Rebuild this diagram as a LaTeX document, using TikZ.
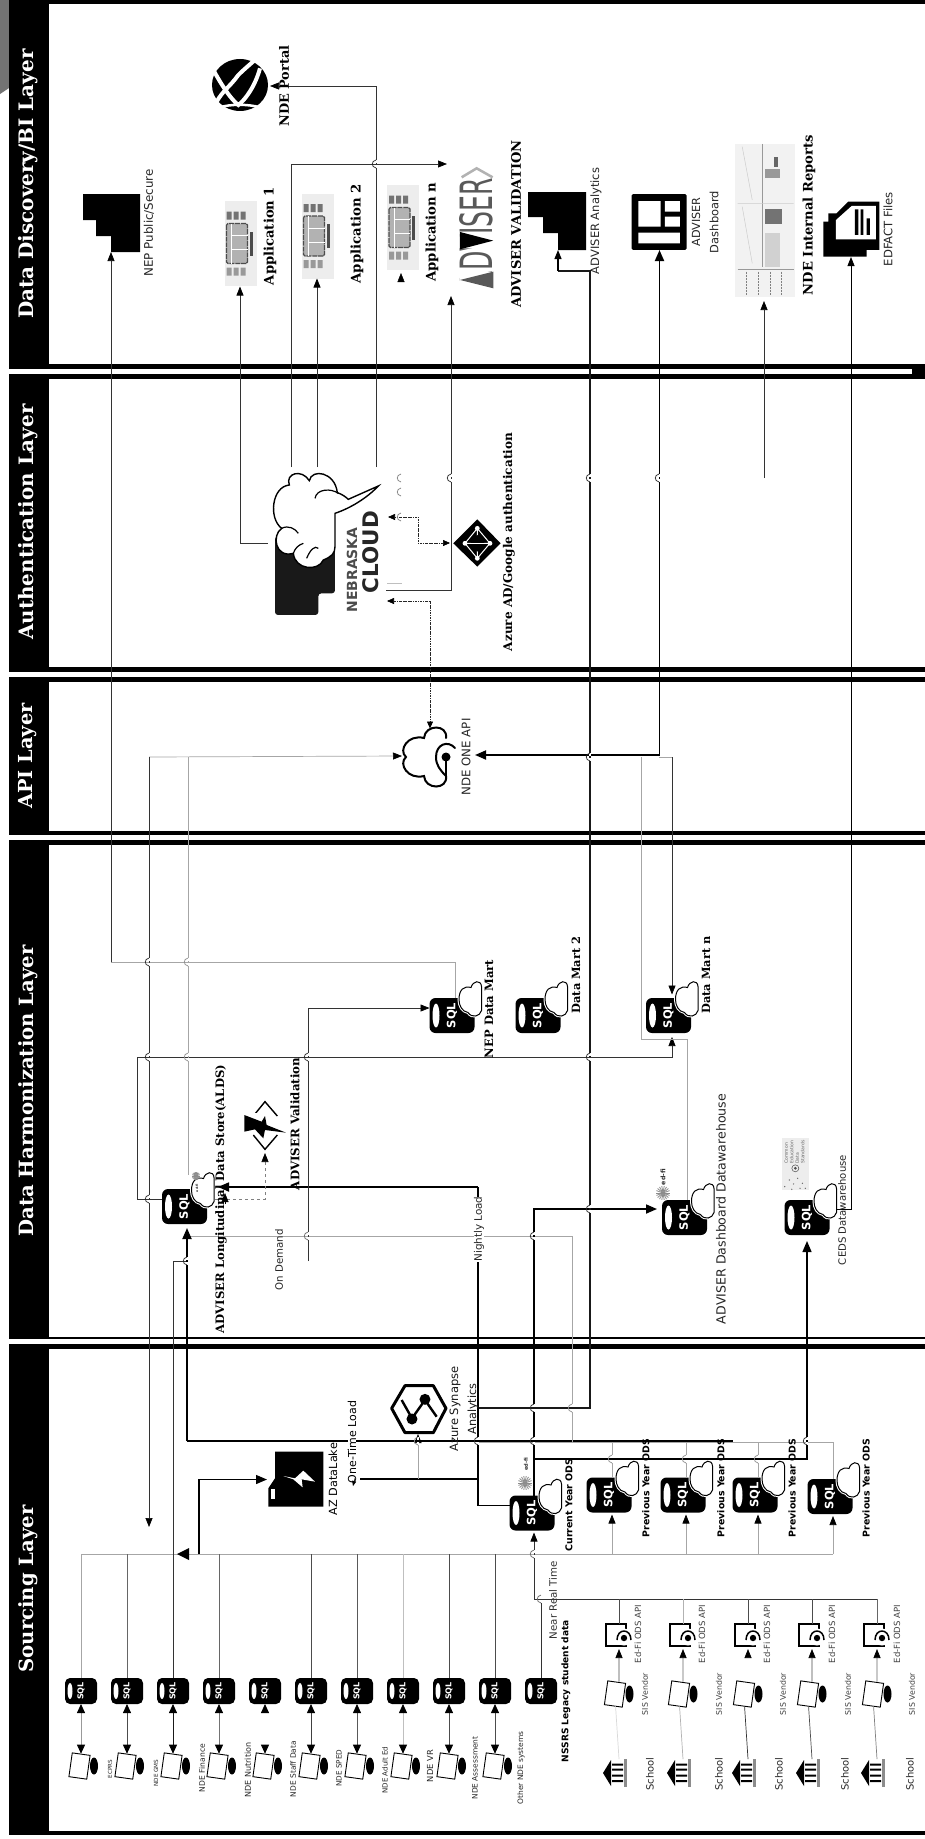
\documentclass[tikz,border=0pt]{standalone}
\usepackage{fontspec}
\usepackage{graphicx}
\setmainfont{DejaVu Sans}
\newfontfamily\fser{DejaVu Serif}
\usetikzlibrary{arrows.meta,calc}
\tikzset{
  wd/.style={line width=.7pt,black!80},
  wg/.style={line width=.7pt,black!35},
  wm/.style={line width=1.1pt,black!90},
  wt/.style={line width=1.8pt,black},
  arr/.style={-{Triangle[length=9pt,width=7pt,color=black]}},
  arrb/.style={-{Triangle[length=11pt,width=9pt,color=black]}},
  barr/.style={{Triangle[length=11pt,width=9pt,color=black]}-{Triangle[length=11pt,width=9pt,color=black]}},
  darr/.style={{Triangle[length=9pt,width=8pt,color=black]}-{Triangle[length=9pt,width=8pt,color=black]}},
  dashy/.style={line width=.6pt,black!85,dash pattern=on 2.5pt off 1pt on .7pt off 1pt},
  darrs/.style={{Triangle[length=7pt,width=6pt,color=black]}-{Triangle[length=7pt,width=6pt,color=black]}},
  sdb/.style={fill=black,text=white,rounded corners=5pt,inner sep=0,outer sep=0,minimum width=32pt,minimum height=26pt,font=\bfseries\fontsize{8}{8}\selectfont},
  bdb/.style={fill=black,text=white,rounded corners=6pt,inner sep=0,outer sep=0,minimum width=45pt,minimum height=35pt,font=\bfseries\fontsize{11.5}{11.5}\selectfont},
}
\newcommand{\rlab}[6][]{\node[rotate=90,inner sep=0,anchor=center,#1] (#2) at (#3,#4) {\resizebox{#5pt}{!}{#6}};}
\newcommand{\hold}[5]{\node[inner sep=0,outer sep=0,minimum width=#4pt,minimum height=#5pt] (#1) at (#2,#3) {};}
\newcommand{\jv}[3][black!85]{%
  \fill[white] (#2-1.2,#3-4) rectangle (#2+1.2,#3-1.2);
  \fill[white] (#2-1.2,#3+1.2) rectangle (#2+1.2,#3+4);
  \draw[#1,line width=.7pt] (#2,#3-4) .. controls (#2-5,#3-3) and (#2-5,#3+3) .. (#2,#3+4);}
\newcommand{\smalldb}[3]{%
  \node[sdb] (#1) at (#2,#3) {\rotatebox{90}{SQL}};
  \fill[white] ([xshift=5pt]#1.west) ellipse [x radius=2.5pt,y radius=8pt];}
\newcommand{\smallcloud}[2]{%
  \begin{scope}[shift={(#1,#2)}]
  \draw[white,line width=3pt,fill=white] (-11,0) .. controls (-11,-10) and (-6,-14) .. (1,-12) .. controls (3,-19) and (11,-20) .. (11.5,-13) -- (11.5,11) .. controls (10,17) and (2,19) .. (-2,13) .. controls (-8,12) and (-11,6) .. (-11,0) -- cycle;
  \draw[black,line width=1pt,fill=white] (-11,0) .. controls (-11,-10) and (-6,-14) .. (1,-12) .. controls (3,-19) and (11,-20) .. (11.5,-13) -- (11.5,11) .. controls (10,17) and (2,19) .. (-2,13) .. controls (-8,12) and (-11,6) .. (-11,0) -- cycle;
  \end{scope}}
\newcommand{\bigdb}[3]{%
  \node[bdb] (#1) at (#2,#3) {\rotatebox{90}{SQL}};
  \fill[white] ([xshift=6.5pt]#1.west) ellipse [x radius=3.5pt,y radius=12pt];
  \smallcloud{#2+18}{#3-16}}
\newcommand{\tablet}[3]{%
  \fill[black] (#2+14.5,#3) ellipse [x radius=4pt,y radius=8.5pt];
  \node[rotate=-8,draw=black,line width=.9pt,fill=white,inner sep=0,minimum width=18pt,minimum height=24pt] (#1) at (#2,#3) {};}
\newcommand{\edfi}[3]{%
  \node[draw=black,line width=2.6pt,fill=white,inner sep=0,outer sep=0,minimum width=20pt,minimum height=22pt] (#1) at (#2,#3) {};
  \begin{scope}[shift={(#2,#3)}]
  \fill[white] (8,2) circle [radius=8.5pt];
  \draw[line width=1.5pt,black] (1,5) .. controls (1,-7) and (15,-7) .. (15,5);
  \fill[black] (8,3) circle [radius=3.2pt];
  \end{scope}}
\newcommand{\school}[3]{%
  \node[inner sep=0,outer sep=0,minimum width=24pt,minimum height=28pt] (#1) at (#2,#3) {};
  \begin{scope}[shift={(#2,#3)}]
  \fill[black] (-12,0) -- (-4,-13) -- (-4,13) -- cycle;
  \fill[black] (-3,-9.5) rectangle (8,-7.3) (-3,-4.5) rectangle (8,-2.3) (-3,1.5) rectangle (8,3.7) (-3,7) rectangle (8,9.2);
  \fill[black!45] (8.5,-14) rectangle (12,14);
  \end{scope}}
\newcommand{\appicon}[3]{%
  \node[fill=black!7,inner sep=0,outer sep=0,minimum width=32pt,minimum height=85pt] (#1) at (#2,#3) {};
  \begin{scope}[shift={(#2,#3)}]
  \fill[black!55] (-14,-32) rectangle (-9,-24) (-7,-32) rectangle (-2,-24) (0,-32) rectangle (5,-24);
  \fill[black!40] (-14,24) rectangle (-9,32) (-7,24) rectangle (-2,32) (0,24) rectangle (5,32);
  \draw[black!70,line width=1.2pt,dash pattern=on 5pt off .8pt,fill=black!30,rounded corners=1.5pt] (-14,-20) rectangle (7,20);
  \draw[white,line width=.6pt] (-9,-20) -- (-9,20) (-9,-8) -- (7,-8) (-9,6) -- (7,6);
  \fill[black!70] (9,-12) rectangle (12,12);
  \end{scope}}
\newcommand{\burst}[3]{%
  \foreach \t in {0,20,...,340}{\draw[black!45,line width=.8pt] (#1,#2) -- ++(\t:#3pt);}}
\begin{document}
\begin{tikzpicture}[x=1pt,y=-1pt]
\useasboundingbox (0,0) rectangle (925,1839);
\fill[white] (0,0) rectangle (925,1839);
% corner
\fill[black!55] (0,0) -- (9,0) -- (9,88) -- (0,94) -- cycle;
% panels
\fill[black] (9,0) rectangle (925,369);
\fill[white] (49,4) rectangle (925,364);
\fill[black] (912,369) rectangle (925,374);
\fill[black] (9,374) rectangle (925,672);
\fill[white] (49,379) rectangle (925,667);
\fill[black] (9,677) rectangle (925,835);
\fill[white] (49,682) rectangle (925,831);
\fill[black] (9,840) rectangle (925,1339);
\fill[white] (49,845) rectangle (925,1337);
\fill[black] (9,1344) rectangle (925,1835);
\fill[white] (49,1349) rectangle (925,1831);
% nodes that connectors need
\foreach \i/\x in {1/81,2/127,3/173,4/219,5/265,6/311,7/357,8/403,9/449,10/495,11/541}{\smalldb{s\i}{\x}{1691}}
\foreach \i/\x in {1/81,2/127,3/173,4/219,5/265,6/311,7/357,8/403,9/449,10/495}{\tablet{t\i}{\x-1.5}{1766}}
\foreach \i/\x in {1/619,2/683,3/748,4/812,5/877}{
  \tablet{v\i}{\x-4}{1694}
  \edfi{ed\i}{\x-3}{1635}
  \school{sc\i}{\x-4}{1773}
}
\hold{iconnep}{111}{223}{58}{58}
\hold{globe}{240}{86}{56}{54}
\appicon{appone}{240.5}{243.5}
\appicon{apptwo}{317.5}{236}
\appicon{appn}{403}{227.5}
\hold{logo}{476.5}{227.5}{33}{121}
\hold{iconana}{557}{221}{58}{58}
\hold{icondash}{659.5}{222}{55}{56}
\hold{reports}{765}{220.5}{60}{153}
\hold{iconedf}{851}{229.5}{56}{55}
\hold{neb}{327.5}{541}{105}{148}
\hold{ad}{477}{543}{48}{48}
\hold{apicloud}{430}{756}{54}{55}
\hold{lake}{295.5}{1479.5}{55}{55}
\hold{syn}{418}{1408}{54}{48}
\hold{valicon}{265}{1125}{41}{50}
% connectors: sourcing
\foreach \i/\c in {1/black!40,2/black!70,3/black!90,4/black!55,6/black!75,7/black!65,8/black!25,9/black!70,10/black!70}{
  \draw[darr,\c,line width=.8pt] (s\i.south) -- (s\i.south |- t\i.north);}
\draw[darr,white,line width=.8pt] (s5.south) -- (s5.south |- t5.north);
\coordinate (busL) at (81,1554);
\coordinate (busR) at (833,1554);
\draw[wg] (s1.north) -- (busL) -- (busR);
\foreach \i/\c in {2/black!60,4/black!60,6/black!70,7/black!65,8/black!25,9/black!70,10/black!70}{
  \draw[\c,line width=.7pt] (s\i.north) -- (s\i.north |- busL);}
\coordinate (gmsend) at (186,1261);
\draw[wd] (s3.north) |- (gmsend);
\coordinate (nrt) at (534,1599);
\coordinate (nrtr) at (877,1599);
\draw[wd] (s11.north) -- (s11.north |- nrt);
\draw[wd] (nrt) -- (nrtr);
\foreach \i/\x/\c/\d/\e in {1/619/black!70/black!15/black!70,2/683/black!30/black!30/black!60,3/748/black!70/black!80/white,4/812/black!70/black!70/black!70,5/877/black!60/black!50/black!60}{
  \draw[\c,line width=.7pt] ([xshift=3pt]ed\i.north) -- (\x,1599);
  \draw[\d,line width=.7pt] ([xshift=4pt]sc\i.north) -- ([xshift=2.3pt]v\i.south);
  \draw[arr,\e,line width=.7pt] ([xshift=2.3pt]v\i.north) -- ([xshift=3pt,yshift=-3pt]ed\i.south);
}
% gray feeds drawn before the cylinders
\coordinate (graystart) at (478,1442);
\draw[wg] (graystart) -- (833,1442);
\coordinate (thickstart) at (187,1441);
\coordinate (thickend) at (733,1441);
\draw[wt] (thickstart) -- (thickend);
\coordinate (graytop) at (572,1442);
\draw[wg] (graytop) |- (188,1236);
\bigdb{cur}{532}{1513}
\bigdb{pvone}{609}{1495}
\bigdb{pvtwo}{683}{1495}
\bigdb{pvthree}{755}{1495}
\bigdb{pvfour}{830}{1496.5}
\bigdb{alds}{184.5}{1206.5}
\bigdb{dmnep}{452}{1015.5}
\bigdb{dmtwo}{538}{1015.5}
\bigdb{dmn}{668.5}{1015.5}
\bigdb{dw}{684.5}{1217.5}
\bigdb{ceds}{807}{1217.5}
\foreach \n in {pvone,pvtwo,pvthree}{
  \draw[wg,arr] (\n.south |- busR) ++(3,0) -- ([xshift=3pt,yshift=-2pt]\n.south);
  \draw[wg] ([xshift=3pt]\n.north) -- ++(0,-35);}
\draw[wg,arr] (busR) -- ([xshift=3pt,yshift=-2pt]pvfour.south);
\draw[wg] ([xshift=3pt]pvfour.north) -- (833,1442);
\draw[wt,arrb] (thickstart) -- ([xshift=2.5pt,yshift=-4pt]alds.south);
\draw[wt] ([yshift=7.5pt]cur.west) -- (478,1505.5) -- (478,1187);
\draw[wt,arrb] (478,1187) -- ([xshift=11pt,yshift=19.5pt]alds.east);
\draw[wt,arrb] ([xshift=2pt]cur.north) -- (534,1209) -- ([xshift=-5pt,yshift=8.5pt]dw.west);
\coordinate (cedsj) at (534,1459);
\draw[line width=1.3pt,black,arrb] (cedsj) -| ([yshift=-6pt]ceds.south);
\draw[wd,arr] (nrt) -- ([xshift=2pt,yshift=-2pt]cur.south);
\draw[line width=1.3pt,black,arrb] (199,1554) |- ([xshift=-1pt]lake.west);
\fill[black] (177,1554) -- (189,1548) -- (189,1560) -- cycle;
\draw[line width=1.3pt,black] (478,1479) -- (360,1479);
\draw[wg,arr] (418,1479) -- ([yshift=-2pt]syn.south);
\draw[wm] ([xshift=34pt]syn.east) -- (590,1408) -- (590,271) -- (558,271);
\draw[line width=1.1pt,black,arr] (558,271) -- ([xshift=1pt]iconana.south);
% harmonization
\coordinate (jnep) at (111,962);
\draw[wg] ([xshift=3pt]dmnep.north) |- (jnep);
\draw[wd,arr] (jnep) -- (iconnep.south);
\coordinate (odstart) at (308,1261);
\draw[wd,arr] (odstart) |- ([yshift=7.5pt]dmnep.west);
\draw[wd,arr] ([yshift=7.5pt]alds.west) -| (137,1057) -| ([xshift=3.5pt,yshift=-4pt]dmn.south);
\draw[black!50,line width=.6pt,dashed,arr] ([xshift=8pt,yshift=7.5pt]alds.east) -| ([yshift=-3pt]valicon.south);
\coordinate (aldssmall) at (225,1204);
\draw[black,arr] (aldssmall) -- (225,1193);
% api
\coordinate (japiw) at (149,757);
\coordinate (japie) at (672,757);
\coordinate (j641) at (641,757);
\draw[wg,arr] (japiw) -- ([xshift=-1pt]apicloud.west);
\draw[wg] (188,757) -- ([xshift=3.5pt,yshift=14pt]alds.north);
\draw[wd,arr] (japiw) -- (149,1527);
\draw[wg] (659,757) -- (japie);
\draw[wd,arr] (japie) -- ([xshift=3.5pt,yshift=3.5pt]dmn.north);
\draw[wg] (j641) |- (687,1039) -- ([xshift=2.5pt]dw.north);
\draw[wt,barr] ([xshift=18pt,yshift=1pt]apicloud.east) -| (icondash.south);
% auth and discovery
\draw[wd,arr] ([xshift=-7.5pt,yshift=-2pt]neb.west) -| ([xshift=-.5pt,yshift=-.5pt]appone.south);
\draw[wd,arr] ([xshift=-36.5pt]neb.north) -- (291,164) -- ([xshift=-13pt,yshift=3pt]logo.north west);
\draw[wd,arr] ([xshift=-10.5pt]neb.north) -- ([xshift=-.5pt]apptwo.south);
\draw[wd,arr] ([xshift=48.5pt]neb.north) -- (376,86) -- ([xshift=2pt]globe.east);
\draw[wd,arr] ([xshift=6pt,yshift=-49pt]neb.east) -| ([xshift=-25.5pt,yshift=-8pt]logo.south);
\draw[dashy,darrs] ([xshift=7pt,yshift=-60pt]neb.east) -| (apicloud.north);
\draw[dashy,darrs] ([xshift=-3pt]ad.west) -- (418,543) -- (418,517) -- ([xshift=8pt,yshift=24pt]neb.east);
\coordinate (jrep) at (764,478);
\draw[wd,arr] (jrep) -- ([xshift=-1pt,yshift=-4pt]reports.south);
\coordinate (jedf) at (401,284);
\draw[white,arr] (jedf) -- ([xshift=-2pt,yshift=-3pt]appn.south);
\draw[line width=.8pt,black,arr] ([xshift=7pt,yshift=8.5pt]ceds.east) -| (iconedf.south);
\draw[black!25,line width=.6pt] (387,583) -- (402,583);
% jumps
\foreach \y in {1209,1057,757,478}{\jv{590}{\y}}
\jv{659}{478}\jv{451}{478}\jv{376}{164}
\jv[black!50]{401}{478}\jv[black!50]{401}{492}\jv[black!50]{401}{517}
\foreach \y in {1441,1408,1236}{\jv{534}{\y}}
\jv{478}{1441}\jv{807}{1441}\jv[black!45]{572}{1408}
\foreach \y in {962,1057,1199}{\jv{149}{\y}}
\jv[black!45]{188}{962}\jv[black!45]{188}{1057}
\jv{308}{1057}\jv[black!60]{308}{1236}\jv{187}{1261}
\jv[black!45]{418}{1441}\jv[black!60]{534}{1554}\jv[black!60]{541}{1599}
\foreach \x in {612,686,758}{\jv[black!45]{\x}{1459}}
% icons
\fill[black] (83,194) -- (140,194) -- (140,252) -- (111,252) -- (111,236) -- (96,236) -- (96,220) -- (83,220) -- cycle;
\fill[black] (528,192) -- (586,192) -- (586,250) -- (558,250) -- (558,233) -- (543,233) -- (543,217) -- (528,217) -- cycle;
% globe
\begin{scope}[shift={(210,30)},x=.3333pt,y=-.3333pt]
\fill[black] (90,165) ellipse [x radius=28pt,y radius=26pt];
\draw[white,line width=4pt] (135,90) .. controls (100,120) and (90,130) .. (85,135) .. controls (60,170) and (40,180) .. (20,215);
\draw[white,line width=4pt] (10,120) .. controls (35,165) and (60,205) .. (85,225) .. controls (105,210) and (135,170) .. (150,115);
\draw[white,line width=2.5pt] (30,232) .. controls (60,222) and (115,222) .. (150,232);
\end{scope}
% adviser logo
\rlab[text=black!65]{logotext}{476.5}{233}{110}{\resizebox{110pt}{33pt}{\fontsize{30}{30}\selectfont ADVISER}}
\begin{scope}[shift={(210,30)},x=.3333pt,y=-.3333pt]
\fill[white] (748,655) rectangle (852,610) (748,725) rectangle (852,778);
\fill[black!65] (750,750) -- (850,725) -- (850,775) -- cycle;
\fill[black] (750,606) -- (850,632) -- (750,658) -- cycle;
\draw[black!30,line width=2.5pt] (755,442) -- (800,415) -- (848,442);
\end{scope}
% dashboard
\begin{scope}[shift={(520,180)},x=.3333pt,y=-.3333pt]
\fill[black,rounded corners=1.5pt] (335,42) rectangle (500,210);
\fill[white] (355,63) rectangle (422,140) (435,63) rectangle (480,95) (435,110) rectangle (480,140) (355,158) rectangle (480,190);
% edfact
\fill[black] (985,65) -- (1078,65) -- (1078,210) -- (1040,210) -- (1040,230) -- (910,230) -- (910,125) -- (925,125) -- (925,100) -- (950,100) -- cycle;
\fill[white] (995,78) -- (1068,78) -- (1068,178) -- (948,178) -- (948,120) -- cycle;
\fill[black] (1005,88) rectangle (1015,165) (1022,88) rectangle (1030,165) (1040,115) rectangle (1050,165);
\end{scope}
% internal reports
\begin{scope}[x=.59pt,y=-.3333pt]
\fill[black!5] (1245,432) rectangle (1348,892);
\draw[black!40,line width=.5pt] (1292,432) -- (1292,800) (1250,808) -- (1345,808);
\fill[black!40] (1296,507) rectangle (1322,535);
\fill[black!55] (1297,628) rectangle (1325,672);
\fill[black!60] (1312,470) rectangle (1318,500);
\fill[black!18] (1297,700) rectangle (1322,800);
\draw[black!20,line width=.5pt] (1258,440) -- (1275,600) (1258,620) -- (1275,790) (1250,610) -- (1345,610);
\foreach \q in {1265,1285,1305,1325}{\draw[black!50,line width=.6pt,dash pattern=on 2pt off 1pt] (\q,815) -- (\q,885);}
\end{scope}
% nebraska cloud
\begin{scope}[shift={(260,460)},x=.3333pt,y=-.3333pt]
\fill[black!90,rounded corners=3pt] (45,230) -- (45,465) -- (175,465) -- (175,400) -- (225,400) -- (225,160) -- cycle;
\draw[black,fill=white,line width=1.4pt] (355,78) -- (265,118) .. controls (245,100) and (235,100) .. (232,98) .. controls (225,35) and (155,25) .. (148,62) .. controls (125,25) and (75,40) .. (88,75) .. controls (35,80) and (25,175) .. (65,205) .. controls (35,225) and (45,295) .. (100,280) .. controls (105,330) and (175,335) .. (190,300) .. controls (215,290) and (225,280) .. (225,260) -- (225,160) .. controls (270,145) and (320,115) .. (355,78) -- cycle;
\draw[black,line width=1.2pt] (165,115) .. controls (170,85) and (215,85) .. (235,100) (65,205) .. controls (85,195) and (105,205) .. (115,220) (140,295) .. controls (150,270) and (165,255) .. (175,265) (100,280) .. controls (105,265) and (115,255) .. (130,250);
% ad diamond
\fill[black] (652,178) -- (722,250) -- (652,320) -- (580,250) -- cycle;
\draw[white,line width=1pt] (652,205) -- (615,250) -- (652,295) -- (690,250) -- cycle (652,205) -- (652,295) (615,250) -- (690,250);
\fill[white] (652,205) circle [radius=2.4pt] (615,250) circle [radius=2.4pt] (690,250) circle [radius=2.4pt] (652,295) circle [radius=2.4pt];
\fill[black] (652,225) -- (675,250) -- (652,275) -- (630,250) -- cycle;
\draw[white,line width=.9pt] (630,250) -- (675,250);
\end{scope}
% api cloud
\draw[black,line width=2pt,line cap=round] (446,738) .. controls (448,724) and (425,724) .. (424,738) .. controls (408,734) and (398,750) .. (406,757) .. controls (398,764) and (408,780) .. (424,776) .. controls (425,790) and (448,790) .. (446,776);
\draw[black,line width=2pt,line cap=round] (455,748) .. controls (448,740) and (436,744) .. (436,757) .. controls (436,765) and (440,770) .. (446,776);
\fill[black] (446,757) circle [radius=4.5pt];
\draw[black,line width=1.5pt] (446,757) -- (446,776);
% synapse, lake
\begin{scope}[shift={(260,1370)},x=.3333pt,y=-.3333pt]
\draw[black,line width=3pt,line join=round,fill=white] (395,115) -- (435,47) -- (520,47) -- (558,115) -- (520,188) -- (435,188) -- cycle;
\draw[black,line width=2.4pt] (425,90) -- (456,145) -- (495,90) -- (530,140);
\fill[black] (456,147) circle [radius=5.5pt] (495,88) circle [radius=5.5pt];
\fill[black] (45,245) -- (190,245) -- (190,410) -- (25,410) -- (25,355) -- (45,325) -- cycle;
\fill[white] (70,318) -- (105,325) -- (130,302) -- (165,335) -- (125,328) -- (128,352) -- (100,328) -- cycle;
\fill[white] (33,358) rectangle (45,388);
\end{scope}
% validation icon
\begin{scope}[shift={(150,1090)},x=.3333pt,y=-.3333pt]
\draw[black,line width=1.4pt] (310,78) -- (345,35) -- (382,78) (310,135) -- (345,178) -- (382,135);
\fill[white] (283,70) rectangle (352,130);
\fill[black] (283,75) -- (335,95) -- (345,78) -- (350,105) -- (408,128) -- (345,120) -- (340,145) -- (315,118) -- (283,125) -- cycle;
\end{scope}
% ceds logo
\begin{scope}[shift={(0,840)},x=.59pt,y=-.3333pt]
\fill[black!7] (1325,893) rectangle (1372,1050);
\draw[black!70,line width=.5pt] (1348,985) circle [radius=3.5pt];
\fill[black!70] (1348,985) circle [radius=1.5pt];
\foreach \q/\r in {1330/1040,1338/1020,1345/1032,1352/1015,1360/1030,1365/1045,1342/1048,1356/1045}{\fill[black!60] (\q,\r) circle [radius=.7pt];}
\end{scope}
% ed-fi bursts
\burst{525}{1483}{7}
\burst{663}{1193}{7}
\burst{196}{1176}{4}
% labels: layers
\rlab[text=white]{tsrc}{28}{1589}{167}{\fser\bfseries Sourcing Layer}
\rlab[text=white]{tharm}{28}{1091}{291}{\fser\bfseries Data Harmonization Layer}
\rlab[text=white]{tapi}{28}{756}{105}{\fser\bfseries API Layer}
\rlab[text=white]{tauth}{28}{522}{235}{\fser\bfseries Authentication Layer}
\rlab[text=white]{tdisc}{28}{184}{269}{\fser\bfseries Data Discovery/BI Layer}
% labels: sourcing
\foreach \n/\x/\y/\l/\t in {a/110/1769/18.3/ECPRS,b/156/1773/27/NDE GMS,c/202/1768/48/NDE Finance,d/248/1770/55/NDE Nutrition,e/293/1769/56/NDE Staff Data,f/339/1768/37/NDE SPED,g/385/1770/47/NDE Adult Ed,h/430/1766/32/NDE VR,i/475/1768/63/NDE Assessment,j/521/1768/73/Other NDE systems}{
  \rlab[text=black!85]{lb\n}{\x}{\y}{\l}{\t}}
\rlab{lnss}{566}{1691}{142}{\bfseries NSSRS Legacy student data}
\rlab[text=black!80]{lnrt}{553}{1600}{78}{Near Real Time}
\rlab{lcur}{569}{1505}{93}{\bfseries Current Year ODS}
\foreach \n/\x in {a/646,b/721,c/792,d/866}{\rlab{lpv\n}{\x}{1488}{98}{\bfseries Previous Year ODS}}
\foreach \n/\x/\s/\u in {a/638/645/650,b/702/719/719,c/767/783/779,d/832/848/845,e/897/912/910}{
  \rlab[text=black!75]{led\n}{\x}{1634}{58}{Ed-Fi ODS API}
  \rlab[text=black!75]{lsis\n}{\s}{1694}{42}{SIS Vendor}
  \rlab[text=black!85]{lsch\n}{\u}{1774}{33}{School}}
\rlab[fill=white]{llake}{333}{1479}{72}{AZ DataLake}
\rlab[fill=white]{lone}{352}{1442}{82}{One-Time Load}
\draw[black,-{Triangle[length=5pt,width=4pt]}] (355,1478) -- (353,1486);
\rlab[text=black!90]{lsynb}{455}{1409}{85}{Azure Synapse}
\rlab[text=black!90]{lsync}{473}{1409}{51}{Analytics}
% labels: harmonization
\rlab{lalds}{221}{1199}{268}{\fser\bfseries ADVISER Longitudinal Data Store(ALDS)}
\rlab{lval}{295}{1124}{132}{\fser\bfseries ADVISER Validation}
\rlab[text=black!85]{lod}{279}{1260}{61}{On Demand}
\rlab[text=black!85,fill=white]{lnl}{479}{1229}{65}{Nightly Load}
\rlab{lnep}{489}{1009}{98}{\fser\bfseries NEP Data Mart}
\rlab{ldm2}{576}{975}{77}{\fser\bfseries Data Mart 2}
\rlab{ldmn}{706}{975}{77}{\fser\bfseries Data Mart n}
\rlab[text=black!85]{ldw}{721}{1209}{230}{ADVISER Dashboard Datawarehouse}
\rlab[text=black!85]{lceds}{842}{1210}{110}{CEDS Datawarehouse}
\rlab[text=black!60]{lcedl}{795}{1152}{23}{\begin{tabular}{@{}l@{}}Common\\Education\\Data\\Standards\end{tabular}}
\rlab[text=black!80]{ledfa}{526}{1464}{13}{\bfseries ed-fi}
\rlab[text=black!80]{ledfb}{663}{1177}{16}{\bfseries ed-fi}
\rlab[text=black!80]{ledfc}{197}{1188}{8}{\bfseries ed-fi}
% labels: api, auth
\rlab[text=black!85]{lapi}{466}{757}{77}{NDE ONE API}
\rlab[text=black!70]{lneb}{352}{570}{85}{\bfseries NEBRASKA}
\rlab[text=black!85]{lclo}{371}{552}{82}{\bfseries CLOUD}
\rlab{lad}{509}{542}{218}{\fser\bfseries Azure AD/Google authentication}
% labels: discovery
\rlab[text=black!85]{lnepp}{149}{223}{107}{NEP Public/Secure}
\rlab{lport}{284}{86}{81}{\fser\bfseries NDE Portal}
\rlab{lap1}{270}{236}{98}{\fser\bfseries Application 1}
\rlab{lap2}{357}{234}{99}{\fser\bfseries Application 2}
\rlab{lapn}{432}{232}{99}{\fser\bfseries Application n}
\rlab{lavv}{516}{224}{167}{\fser\bfseries ADVISER VALIDATION}
\rlab[text=black!85]{lana}{596}{221}{106}{ADVISER Analytics}
\rlab[text=black!85]{lda}{696}{222}{49}{ADVISER}
\rlab[text=black!85]{ldb}{714}{222}{62}{Dashboard}
\rlab{lrep}{809}{215}{160}{\fser\bfseries NDE Internal Reports}
\rlab[text=black!85]{ledf}{888}{229}{74}{EDFACT Files}
\end{tikzpicture}
\end{document}
